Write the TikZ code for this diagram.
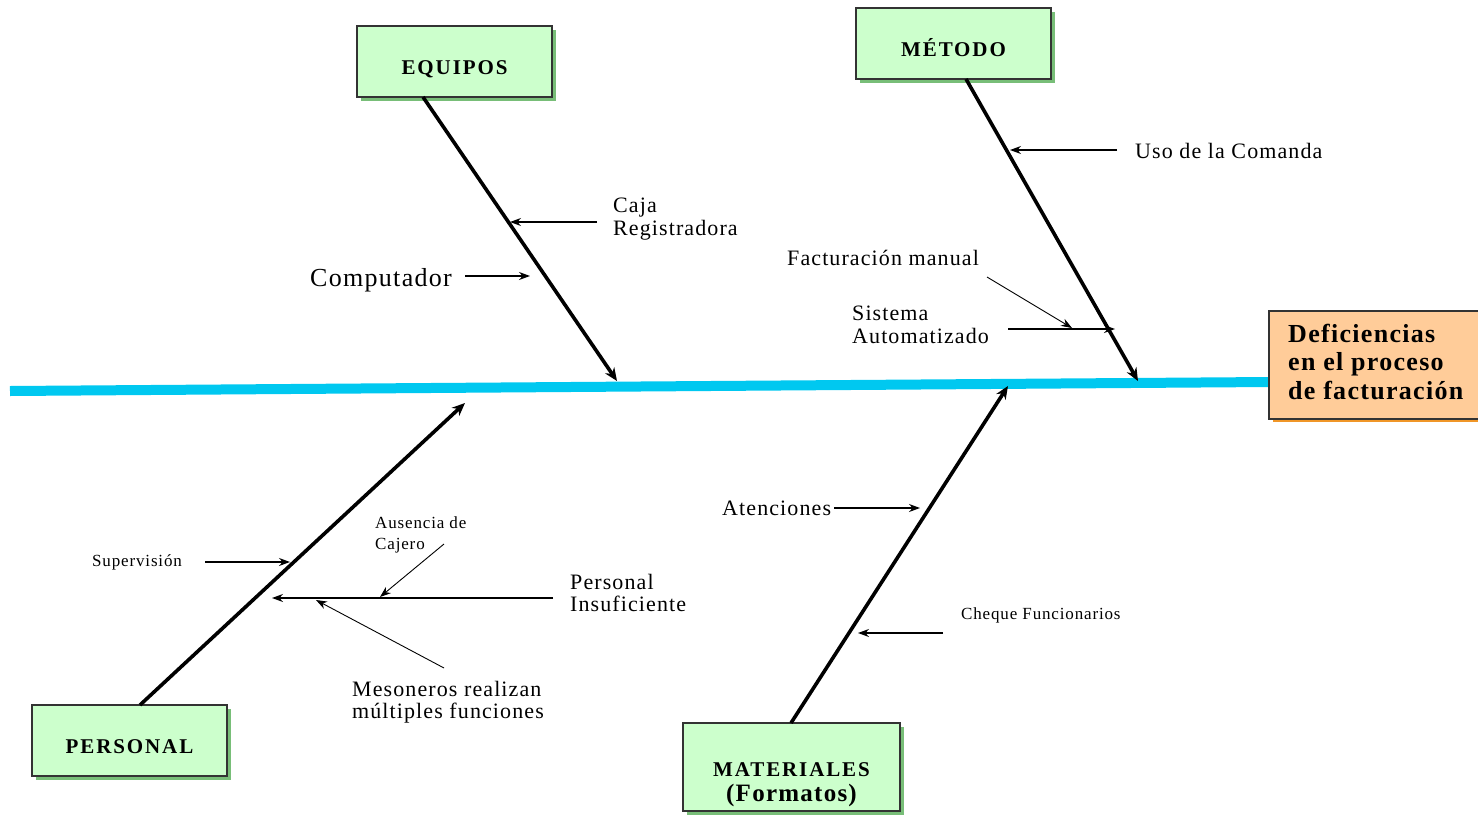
\documentclass[tikz,border=0pt]{standalone}
\usepackage{fontspec}
\setmainfont{Liberation Serif}
\newfontfamily\wideserif[LetterSpace=5]{Liberation Serif}
\newfontfamily\widebold[LetterSpace=9]{Liberation Serif}
\usetikzlibrary{arrows.meta,shadows}
\definecolor{boxgreen}{RGB}{204,255,204}
\definecolor{shadegreen}{RGB}{120,190,120}
\definecolor{effectorange}{RGB}{255,204,153}
\definecolor{shadeorange}{RGB}{240,150,40}
\definecolor{spinecyan}{RGB}{0,200,240}
\newcommand{\lowertext}[2]{\raisebox{-#1}[\height][\depth]{#2}}
\tikzset{
  catbox/.style={draw=black!80, line width=1.3pt, fill=boxgreen, align=center,
    font=\widebold\fontsize{21}{24}\selectfont\bfseries,
    drop shadow={shadow xshift=4pt, shadow yshift=-4pt, fill=shadegreen, opacity=1}},
  effectbox/.style={draw=black!80, line width=1.3pt, fill=effectorange,
    drop shadow={shadow xshift=4pt, shadow yshift=-3pt, fill=shadeorange, opacity=1}},
  effecttext/.style={anchor=west, align=left, inner sep=0pt,
    font=\wideserif\fontsize{26}{28.5}\selectfont\bfseries},
  bone/.style={line width=3.6pt, -{Stealth[length=13pt,width=11pt]}},
  twig/.style={line width=1.1pt, -{Stealth[length=11pt,width=8pt]}},
  thin/.style={line width=0.9pt, -{Stealth[length=11pt,width=8pt]}},
  midlbl/.style={anchor=west, align=left, font=\wideserif\fontsize{22}{22.5}\selectfont, inner sep=0pt},
  smalllbl/.style={anchor=west, align=left, font=\wideserif\fontsize{17}{21}\selectfont, inner sep=0pt},
}
\begin{document}
\begin{tikzpicture}[x=1pt,y=-1pt]
\useasboundingbox (0,0) rectangle (1478,814);

% spine of the fishbone
\coordinate (spineL) at (10,391);
\coordinate (spineR) at (1270,382);
\draw[spinecyan, line width=10pt] (spineL) -- (spineR);

% effect box
\node[effectbox, minimum width=212pt, minimum height=108pt] (effect) at (1375,365) {};
\node[effecttext] (effecttxt) at (1288,361.5) {Deficiencias\\en el proceso\\de facturación};

% category boxes
\node[catbox, minimum width=195pt, minimum height=71pt] (equipos) at (454.5,61.5) {\lowertext{8pt}{EQUIPOS}};
\node[catbox, minimum width=195pt, minimum height=71pt] (metodo) at (953.5,43.5) {\lowertext{4pt}{MÉTODO}};
\node[catbox, minimum width=195pt, minimum height=71pt] (personal) at (129.5,740.5) {\lowertext{6pt}{PERSONAL}};
\node[catbox, minimum width=217pt, minimum height=88pt] (materiales) at (791.5,767)
  {\lowertext{17pt}{\begin{tabular}{@{}c@{}}MATERIALES\\[1pt]{\wideserif\fontsize{25}{26}\selectfont\bfseries (Formatos)}\end{tabular}}};

% main bones
\coordinate (eqTop) at (423,97);
\coordinate (eqEnd) at (617,381);
\coordinate (meTop) at (966,79);
\coordinate (meEnd) at (1138,381);
\coordinate (peBot) at (140,705);
\coordinate (peEnd) at (465,403);
\coordinate (maBot) at (791,723);
\coordinate (maEnd) at (1008,386);
\draw[bone] (eqTop) -- (eqEnd);
\draw[bone] (meTop) -- (meEnd);
\draw[bone] (peBot) -- (peEnd);
\draw[bone] (maBot) -- (maEnd);

% EQUIPOS causes
\node[midlbl] (caja) at (613,219) {Caja\\Registradora};
\coordinate (cajaS) at (597,222);
\coordinate (cajaE) at (510,222);
\draw[twig] (cajaS) -- (cajaE);
\node[anchor=west, inner sep=0pt, font=\wideserif\fontsize{26}{28}\selectfont] (comp) at (310,280) {Computador};
\coordinate (compS) at (465,276);
\coordinate (compE) at (530,276);
\draw[twig] (compS) -- (compE);

% METODO causes
\node[midlbl] (uso) at (1135,151) {Uso de la Comanda};
\coordinate (usoS) at (1117,150);
\coordinate (usoE) at (1010,150);
\draw[twig] (usoS) -- (usoE);
\node[midlbl] (fact) at (787,258) {Facturación manual};
\node[midlbl] (sist) at (852,325) {Sistema\\Automatizado};
\coordinate (sistS) at (1008,329);
\coordinate (sistE) at (1115,329);
\draw[twig] (sistS) -- (sistE);
\coordinate (factS) at (987,277);
\coordinate (factE) at (1072,328);
\draw[thin] (factS) -- (factE);

% PERSONAL causes
\node[smalllbl] (sup) at (92,562) {Supervisión};
\coordinate (supS) at (205,562);
\coordinate (supE) at (290,562);
\draw[twig] (supS) -- (supE);
\node[midlbl] (insuf) at (570,593) {Personal\\Insuficiente};
\coordinate (insS) at (553,598);
\coordinate (insE) at (272,598);
\draw[twig] (insS) -- (insE);
\node[smalllbl] (aus) at (375,535) {Ausencia de\\Cajero};
\coordinate (ausS) at (444,544);
\coordinate (ausE) at (380,597);
\draw[thin] (ausS) -- (ausE);
\node[midlbl] (meso) at (352,702) {Mesoneros realizan\\múltiples funciones};
\coordinate (mesS) at (444,668);
\coordinate (mesE) at (316,600);
\draw[thin] (mesS) -- (mesE);

% MATERIALES causes
\node[midlbl] (aten) at (722,508) {Atenciones};
\coordinate (atS) at (834,508);
\coordinate (atE) at (920,508);
\draw[twig] (atS) -- (atE);
\node[smalllbl] (cheq) at (961,615) {Cheque Funcionarios};
\coordinate (chS) at (943,633);
\coordinate (chE) at (858,633);
\draw[twig] (chS) -- (chE);
\end{tikzpicture}
\end{document}
